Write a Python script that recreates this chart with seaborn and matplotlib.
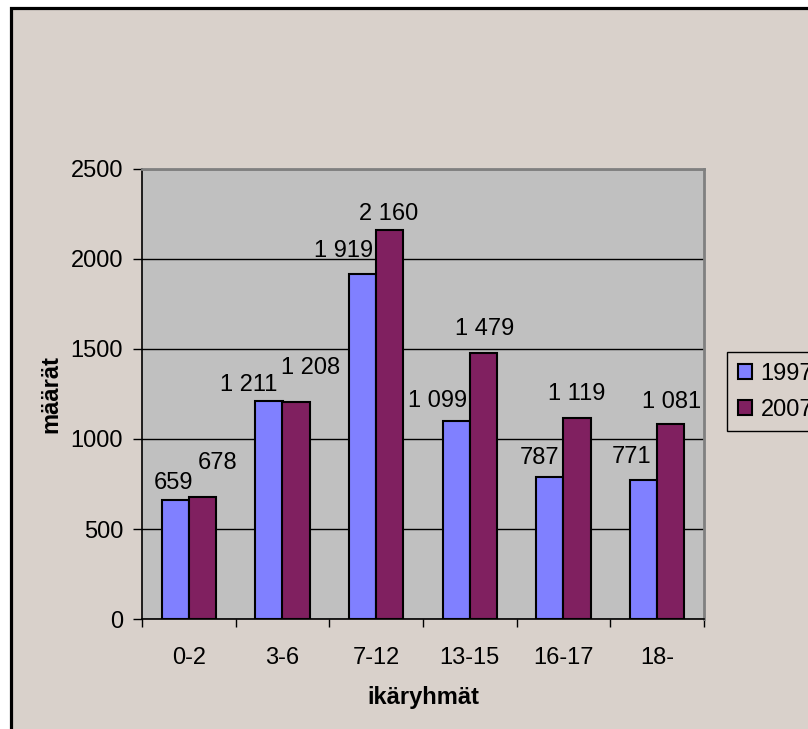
import matplotlib
matplotlib.use("Agg")
import matplotlib.pyplot as plt
from matplotlib.patches import Rectangle
import seaborn as sns
import pandas as pd

categories = ["0-2", "3-6", "7-12", "13-15", "16-17", "18-"]
years = ["1997", "2007"]
values_1997 = [659, 1211, 1919, 1099, 787, 771]
values_2007 = [678, 1208, 2160, 1479, 1119, 1081]
y_ticks = [0, 500, 1000, 1500, 2000, 2500]

# label centre offsets (pixels) from the bar top, to mimic the original placement
offsets_1997 = [(-2, 17), (-20, 16), (-19, 23), (-19, 20), (-10, 19), (-12, 23)]
offsets_2007 = [(15, 34), (14, 34), (-1, 16), (1, 24), (0, 24), (1, 22)]

df = pd.DataFrame({
    "ikäryhmät": categories * 2,
    "määrät": values_1997 + values_2007,
    "vuosi": [years[0]] * len(categories) + [years[1]] * len(categories),
})

sns.set_style("white")
plt.rcParams["font.family"] = ["Liberation Sans", "DejaVu Sans"]
for k in ["text.color", "axes.labelcolor", "xtick.color", "ytick.color"]:
    plt.rcParams[k] = "black"

W, H = 808, 729
fig = plt.figure(figsize=(W / 100, H / 100), dpi=100, facecolor="white")
bg = "#d9d1cb"
fig.patches.append(Rectangle((10.5 / W, -0.2), 1.5, 1 - 8 / H + 0.2,
                             transform=fig.transFigure, facecolor=bg,
                             edgecolor="black", linewidth=2.3, zorder=-10))

ax = fig.add_axes([142 / W, 1 - 619 / H, (704 - 142) / W, (619 - 169) / H])
ax.set_zorder(1)
ax.set_facecolor("#c0c0c0")

colors = ["#8080ff", "#802060"]
sns.barplot(data=df, x="ikäryhmät", y="määrät", hue="vuosi", order=categories,
            hue_order=years, palette=colors, width=0.58, gap=0,
            edgecolor="black", linewidth=1.5, ax=ax, zorder=3, saturation=1)

ax.set_ylim(0, 2500)
ax.set_xlim(-0.5, len(categories) - 0.5)
ax.set_yticks(y_ticks)
ax.yaxis.grid(True, color="black", linewidth=1, zorder=1)
ax.set_axisbelow(True)

fs = 17
ax.tick_params(axis="y", labelsize=fs, length=6.5, width=1, pad=7, color="black",
               direction="out", left=True)
ax.tick_params(axis="x", which="major", labelsize=fs, length=0, pad=20)
ax.set_xticks([i - 0.5 for i in range(len(categories) + 1)], minor=True)
ax.tick_params(axis="x", which="minor", length=6, width=1, color="black",
               direction="out", bottom=True)

for side in ["left", "bottom"]:
    ax.spines[side].set_color("black")
    ax.spines[side].set_linewidth(1.2)
for side in ["top", "right"]:
    ax.spines[side].set_color("#808080")
    ax.spines[side].set_linewidth(2)

ax.set_xlabel("ikäryhmät", fontsize=fs, fontweight="bold")
ax.set_ylabel("määrät", fontsize=fs, fontweight="bold")
ax.xaxis.set_label_coords(0.5, -0.149)
ax.yaxis.set_label_coords(-0.142, 0.5)

# value labels
for container, offs in zip(ax.containers, [offsets_1997, offsets_2007]):
    for bar, (dx, dy) in zip(container, offs):
        v = bar.get_height()
        txt = f"{int(round(v)):,}".replace(",", " ")
        ax.annotate(txt, (bar.get_x() + bar.get_width() / 2, v),
                    xytext=(dx, dy), textcoords="offset pixels",
                    ha="center", va="center", fontsize=fs, zorder=5)

handles, labels = ax.get_legend_handles_labels()
ax.legend(handles, labels, loc="upper left",
          bbox_to_anchor=(727 / W, 1 - 352 / H), bbox_transform=fig.transFigure,
          fontsize=fs, frameon=True, fancybox=False, facecolor=bg,
          edgecolor="black", framealpha=1, handlelength=0.62, handleheight=0.62,
          handletextpad=0.35, borderpad=0.45, labelspacing=0.6, borderaxespad=0)
leg = ax.get_legend()
leg.get_frame().set_linewidth(1)
for h in leg.legend_handles:
    h.set_edgecolor("black")
    h.set_linewidth(1.5)

fig.savefig("out.png", dpi=100, facecolor="white")
